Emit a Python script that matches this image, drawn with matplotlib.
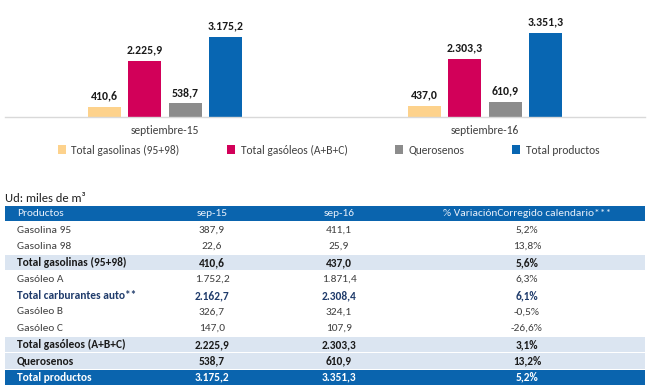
import matplotlib
matplotlib.use("Agg")
import matplotlib.pyplot as plt
from matplotlib.patches import Patch

plt.rcParams['font.family'] = ['Carlito', 'DejaVu Sans']

# ---------------- data ----------------
categories = ["septiembre-15", "septiembre-16"]
series_names = ["Total gasolinas (95+98)", "Total gasóleos (A+B+C)", "Querosenos", "Total productos"]
gasolinas = [410.6, 437.0]
gasoleos = [2225.9, 2303.3]
querosenos = [538.7, 610.9]
total_productos = [3175.2, 3351.3]

unit_label = "Ud: miles de m³"
table_header = ["Productos", "sep-15", "sep-16", "% VariaciónCorregido calendario***"]
productos = ["Gasolina 95", "Gasolina 98", "Total gasolinas (95+98)", "Gasóleo A",
             "Total carburantes auto**", "Gasóleo B", "Gasóleo C",
             "Total gasóleos (A+B+C)", "Querosenos", "Total productos"]
sep15 = [387.9, 22.6, 410.6, 1752.2, 2162.7, 326.7, 147.0, 2225.9, 538.7, 3175.2]
sep16 = [411.1, 25.9, 437.0, 1871.4, 2308.4, 324.1, 107.9, 2303.3, 610.9, 3351.3]
variacion = [5.2, 13.8, 5.6, 6.3, 6.1, -0.5, -26.6, 3.1, 13.2, 5.2]
row_kind = ["normal", "normal", "sub", "normal", "auto", "normal", "normal", "sub", "sub", "total"]

# ---------------- styles ----------------
bar_colors = ["#fdd28c", "#d20059", "#8c8c8c", "#0866b2"]
head_blue = "#0a64ae"
shade = "#dbe5f1"
W, H = 650, 391


def fmt(v):
    s = f"{v:,.1f}"
    return s.replace(",", "X").replace(".", ",").replace("X", ".")


def fmt_pct(v):
    return f"{v:.1f}".replace(".", ",") + "%"


fig = plt.figure(figsize=(W / 100, H / 100), dpi=100)

# ---------------- bar chart ----------------
ax = fig.add_axes([5 / W, 1 - 117 / H, 640 / W, 117 / H])
series = [gasolinas, gasoleos, querosenos, total_productos]
offsets = [-0.19, -0.064, 0.064, 0.19]
xs = list(range(len(categories)))
for vals, off, col in zip(series, offsets, bar_colors):
    pos = [x + off for x in xs]
    bars = ax.bar(pos, vals, width=0.102, color=col, zorder=2)
    for b, v in zip(bars, vals):
        ax.annotate(fmt(v), (b.get_x() + b.get_width() / 2, b.get_height()),
                    xytext=(0, 4), textcoords="offset points", ha="center", va="bottom",
                    fontsize=8.5, fontweight="bold", color="#1a1a1a")
ax.set_xlim(-0.5, 1.5)
ax.set_ylim(0, 4643)
for s in ["top", "left", "right"]:
    ax.spines[s].set_visible(False)
ax.spines["bottom"].set_color("#d9d9d9")
ax.spines["bottom"].set_linewidth(1.0)
ax.set_yticks([])
ax.set_xticks(xs)
ax.set_xticklabels(categories, fontsize=8.3, color="#404040")
ax.tick_params(axis="x", length=0, pad=6)
ax.patch.set_visible(False)

handles = [Patch(facecolor=c, edgecolor="none") for c in bar_colors]
fig.legend(handles, series_names, loc="center left",
           bbox_to_anchor=(58 / W, 1 - 150 / H), ncol=4, frameon=False,
           fontsize=8.3, labelcolor="#404040", handlelength=0.7, handleheight=0.7,
           handletextpad=0.45, columnspacing=4.15, borderpad=0, borderaxespad=0)

# ---------------- table ----------------
fig.text(5 / W, 1 - 198 / H, unit_label, fontsize=9, color="#222222", ha="left", va="center")

top_px, bot_px = 205.5, 385.5
tax = fig.add_axes([5 / W, 1 - bot_px / H, 640 / W, (bot_px - top_px) / H])
n_rows = len(productos) + 1
tax.set_xlim(0, 640)
tax.set_ylim(n_rows - 0.5, -0.5)
tax.axis("off")

col_x = [12, 207, 334, 522]
gap = 0.035

# header
tax.axhspan(-0.5, 0.5 - gap, color=head_blue, lw=0)
for j, h in enumerate(table_header):
    tax.text(col_x[j], 0, h, ha="left" if j == 0 else "center", va="center",
             fontsize=8.2, color="#e9f0fa")

for i, (name, a, b, v, kind) in enumerate(zip(productos, sep15, sep16, variacion, row_kind)):
    r = i + 1
    weight = "normal"
    color = "#404040"
    if kind == "sub":
        tax.axhspan(r - 0.5 + gap, r + 0.5 - gap, color=shade, lw=0)
        weight, color = "bold", "#1a1a1a"
    elif kind == "auto":
        weight, color = "bold", "#1f3b6b"
    elif kind == "total":
        tax.axhspan(r - 0.5 + gap, r + 0.5 - gap, color=head_blue, lw=0)
        weight, color = "bold", "#ffffff"
    cells = [name, fmt(a), fmt(b), fmt_pct(v)]
    for j, c in enumerate(cells):
        tax.text(col_x[j], r, c, ha="left" if j == 0 else "center", va="center",
                 fontsize=8.2, fontweight=weight, color=color)

fig.savefig("out.png", dpi=100)
